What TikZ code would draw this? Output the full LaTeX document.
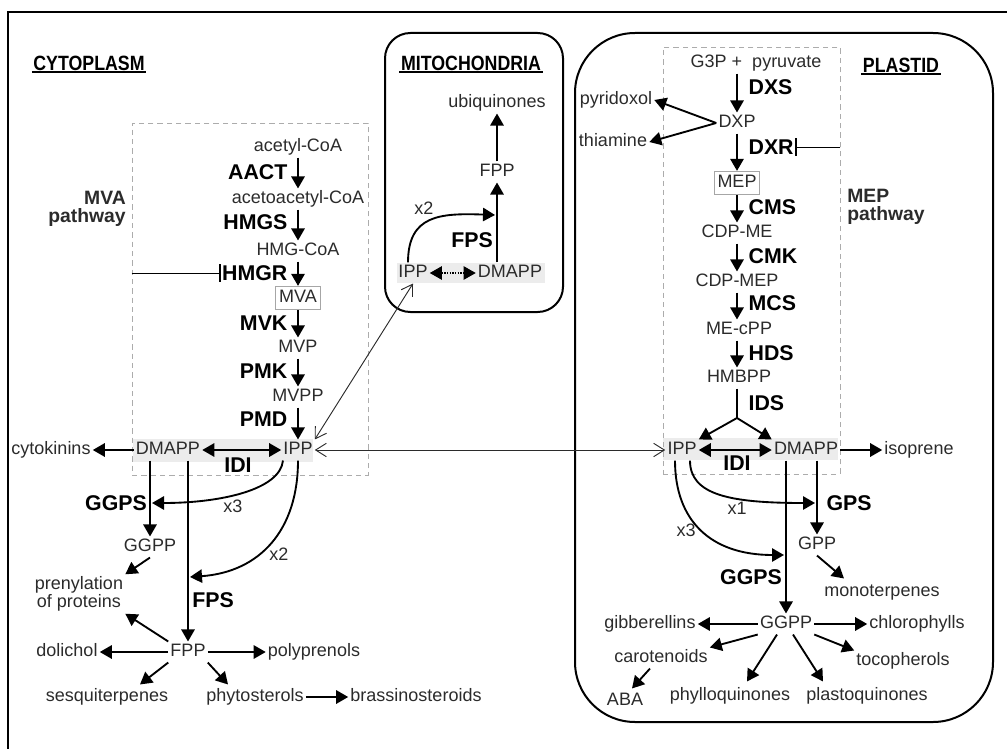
\documentclass[tikz,border=0pt]{standalone}
\usepackage{fontspec}
\setmainfont{Liberation Sans}
\newfontfamily\narrowsf[FakeStretch=0.86]{Liberation Sans}
\usetikzlibrary{arrows.meta}
\definecolor{txt}{HTML}{2B2B2B}

\begin{document}
\begin{tikzpicture}[x=0.75pt, y=-0.75pt, >={Triangle[length=9pt,width=10pt]},
    lbl/.style={text=txt, font=\fontsize{13.5}{15}\selectfont, inner sep=1.5pt, text height=9.8pt, text depth=2.6pt},
    two/.style={text=txt, font=\fontsize{13.5}{12}\selectfont, inner sep=1.5pt, align=center},
    enz/.style={font=\bfseries\fontsize{16}{17}\selectfont, inner sep=1pt},
    ttl/.style={font=\narrowsf\bfseries\fontsize{15.5}{17}\selectfont, inner sep=1pt},
    pwy/.style={font=\bfseries\fontsize{14.5}{13.5}\selectfont, text=txt, inner sep=0pt},
    arr/.style={->, line width=1.4pt},
    dbl/.style={<->, line width=1.4pt},
    trn/.style={{Straight Barb[length=8pt,width=10pt]}-{Straight Barb[length=8pt,width=10pt]}, line width=0.7pt, draw=txt},
    inh/.style={-{Bar[width=13pt,line width=1pt]}, line width=0.7pt},
    pwbox/.style={draw=gray!65, dash pattern=on 4pt off 3pt, line width=0.7pt, inner sep=0pt},
    band/.style={fill=gray!15},
    cmp/.style={line width=1.5pt},
    box/.style={draw=gray!70, line width=0.8pt, inner sep=2.5pt}]

    \useasboundingbox (0,0) rectangle (1007,749);
    \draw[line width=1.5pt] (8,749) -- (8,12) -- (1007,12);

    % compartments
    \draw[cmp, rounded corners=19pt] (385,33) rectangle (563,312);
    \draw[cmp, rounded corners=45pt] (575,33) rectangle (993,722);

    % IPP/DMAPP bands
    \fill[band] (133,439) rectangle (313,462);
    \fill[band] (397,263) rectangle (545,283);
    \fill[band] (663,438) rectangle (838,460);

    \node[pwbox, minimum width=177pt, minimum height=264pt] (mvabox) at (250,299) {};
    \node[pwbox, minimum width=132.75pt, minimum height=320.25pt] (mepbox) at (751.5,260.5) {};

    % titles
    \node[ttl] (cyto) at (89,63) {CYTOPLASM};
    \draw[line width=1.2pt] (cyto.south west) -- (cyto.south east);
    \node[ttl] (mito) at (471,63) {MITOCHONDRIA};
    \draw[line width=1.2pt] (mito.south west) -- (mito.south east);
    \node[ttl] (plas) at (901,65) {PLASTID};
    \draw[line width=1.2pt] (plas.south west) -- (plas.south east);

    \node[pwy, align=right, anchor=east] (mvap) at (126,209) {MVA\\pathway};
    \node[pwy, align=left, anchor=west] (mepp) at (847,207) {MEP\\pathway};

    % MVA pathway
    \node[lbl] (acoa) at (298,147) {acetyl-CoA};
    \node[lbl] (aacoa) at (298,199) {acetoacetyl-CoA};
    \node[lbl] (hmgcoa) at (298,251) {HMG-CoA};
    \node[lbl, box] (mva) at (298,298) {MVA};
    \node[lbl] (mvp) at (298,348) {MVP};
    \node[lbl] (mvpp) at (298,397) {MVPP};
    \node[lbl] (ippC) at (298,450) {IPP};
    \node[lbl] (dmappC) at (168,450) {DMAPP};
    \node[lbl] (cytok) at (51,450) {cytokinins};

    \draw[arr] (acoa) -- (aacoa);
    \draw[arr] (aacoa) -- (hmgcoa);
    \draw[arr] (hmgcoa) -- (mva);
    \draw[arr] (mva) -- (mvp);
    \draw[arr] (mvp) -- (mvpp);
    \draw[arr] (mvpp) -- (ippC);

    \node[enz, anchor=east] (aact) at (289,172) {AACT};
    \node[enz, anchor=east] (hmgs) at (289,222) {HMGS};
    \node[enz, anchor=east] (hmgr) at (289,273) {HMGR};
    \node[enz, anchor=east] (mvk) at (289,323) {MVK};
    \node[enz, anchor=east] (pmk) at (289,371) {PMK};
    \node[enz, anchor=east] (pmd) at (289,419) {PMD};
    \draw[inh] (mvabox.west |- hmgr) -- (hmgr.west);

    \draw[dbl] (dmappC) -- (ippC);
    \node[enz] (idiC) at (238,465) {IDI};
    \draw[arr] (dmappC) -- (cytok);

    % cytoplasmic prenyl chains
    \node[lbl] (ggppC) at (150,547) {GGPP};
    \node[lbl] (fppC) at (188,652) {FPP};
    \draw[arr] (dmappC.south -| ggppC) -- (ggppC);
    \draw[arr] (dmappC.south -| fppC) -- (fppC);
    \node[enz] (ggpsC) at (116,503) {GGPS};
    \node[enz] (fpsC) at (213,600) {FPS};
    \coordinate (g3C) at (152,503);
    \coordinate (f2C) at (190,577);
    \draw[arr] ([shift={(-15,0)}]ippC.south) .. controls (280,490) and (220,503) .. (g3C);
    \draw[arr] (ippC.south) .. controls (298,530) and (260,572) .. (f2C);
    \node[lbl] (x3C) at (233,508) {x3};
    \node[lbl] (x2C) at (279,556) {x2};

    \node[two] (prenyl) at (79,594) {prenylation\\of proteins};
    \node[lbl] (dolichol) at (67,652) {dolichol};
    \node[lbl] (polypren) at (314,652) {polyprenols};
    \node[lbl] (sesqui) at (107,697) {sesquiterpenes};
    \node[lbl] (phyto) at (255,697) {phytosterols};
    \node[lbl] (brassino) at (416,697) {brassinosteroids};
    \draw[arr] (ggppC.south) -- (prenyl.north east);
    \draw[arr] (fppC.north west) -- (prenyl.south east);
    \draw[arr] (fppC) -- (dolichol);
    \draw[arr] (fppC) -- (polypren);
    \draw[arr] (fppC.south west) -- ([shift={(33,-2)}]sesqui.north);
    \draw[arr] (fppC.south east) -- ([shift={(-27,-2)}]phyto.north);
    \draw[arr] (phyto) -- (brassino);

    % mitochondria
    \node[lbl] (ubiq) at (497,103) {ubiquinones};
    \node[lbl] (fppM) at (497,172) {FPP};
    \node[lbl] (ippM) at (413,273) {IPP};
    \node[lbl] (dmappM) at (510,273) {DMAPP};
    \draw[arr] (fppM) -- (ubiq);
    \draw[arr] (dmappM.north -| fppM) -- (fppM);
    \draw[<->, line width=0.8pt, dash pattern=on 1pt off 1pt] (ippM) -- (dmappM);
    \coordinate (f2M) at (495,215);
    \draw[arr] ([shift={(-5,0)}]ippM.north) .. controls (408,215) and (440,213) .. (f2M);
    \node[lbl] (x2M) at (424,210) {x2};
    \node[enz] (fpsM) at (472,240) {FPS};

    % MEP pathway
    \node[lbl] (g3p) at (756,63) {G3P +\ \ pyruvate};
    \node[lbl] (dxp) at (737,123) {DXP};
    \node[lbl] (pyrid) at (616,100) {pyridoxol};
    \node[lbl] (thiam) at (613,142) {thiamine};
    \node[lbl, box] (mep) at (737,183) {MEP};
    \node[lbl] (cdpme) at (737,233) {CDP-ME};
    \node[lbl] (cdpmep) at (737,282) {CDP-MEP};
    \node[lbl] (mecpp) at (739,330) {ME-cPP};
    \node[lbl] (hmbpp) at (739,378) {HMBPP};
    \coordinate (idsP) at (737,418);
    \node[lbl] (ippP) at (682,450) {IPP};
    \node[lbl] (dmappP) at (806,450) {DMAPP};
    \node[lbl] (isopr) at (919,450) {isoprene};

    \draw[arr] (g3p.south -| dxp) -- (dxp);
    \draw[arr] (dxp.west) -- (pyrid.east);
    \draw[arr] (dxp.west) -- (thiam.east);
    \draw[arr] (dxp) -- (mep);
    \draw[arr] (mep) -- (cdpme);
    \draw[arr] (cdpme) -- (cdpmep);
    \draw[arr] (cdpmep.south -| idsP) -- (mecpp.north -| idsP);
    \draw[arr] (mecpp.south -| idsP) -- (hmbpp.north -| idsP);
    \draw[line width=0.8pt] (hmbpp.south -| idsP) -- (idsP);
    \draw[arr] (idsP) -- (ippP.north east);
    \draw[arr] (idsP) -- (dmappP.north west);

    \node[enz, anchor=west] (dxs) at (747,87) {DXS};
    \node[enz, anchor=west] (dxr) at (747,147) {DXR};
    \node[enz, anchor=west] (cms) at (747,207) {CMS};
    \node[enz, anchor=west] (cmk) at (747,256) {CMK};
    \node[enz, anchor=west] (mcs) at (747,303) {MCS};
    \node[enz, anchor=west] (hds) at (747,353) {HDS};
    \node[enz, anchor=west] (ids) at (747,403) {IDS};
    \draw[inh] (mepbox.east |- dxr) -- (dxr.east);

    \draw[dbl] (ippP) -- (dmappP);
    \node[enz] (idiP) at (737,463) {IDI};
    \draw[arr] (dmappP) -- (isopr);

    % IPP exchange
    \draw[trn] (ippC) -- (ippP);
    \draw[trn] (ippM.south) -- (ippC.north east);

    % plastid prenyl chains
    \node[lbl] (gpp) at (817,545) {GPP};
    \node[lbl] (ggppP) at (786,624) {GGPP};
    \draw[arr] (dmappP.south -| gpp) -- (gpp);
    \draw[arr] (dmappP.south -| ggppP) -- (ggppP);
    \coordinate (g1P) at (815,503);
    \coordinate (g3P) at (784,555);
    \draw[arr] ([shift={(8,0)}]ippP.south) .. controls (690,495) and (730,503) .. (g1P);
    \draw[arr] ([shift={(-7,0)}]ippP.south) .. controls (675,520) and (710,555) .. (g3P);
    \node[lbl] (x1P) at (737,510) {x1};
    \node[lbl] (x3P) at (686,532) {x3};
    \node[enz, anchor=west] (gpsP) at (825,503) {GPS};
    \node[enz] (ggpsP) at (751,577) {GGPS};
    \node[lbl] (monot) at (882,592) {monoterpenes};
    \draw[arr] (gpp.south) -- ([shift={(-38,-3)}]monot.north);

    \node[lbl] (gibb) at (650,624) {gibberellins};
    \node[lbl] (chloro) at (917,624) {chlorophylls};
    \node[lbl] (carot) at (661,658) {carotenoids};
    \node[lbl] (tocoph) at (903,661) {tocopherols};
    \node[lbl] (phyllo) at (730,696) {phylloquinones};
    \node[lbl] (plasto) at (867,696) {plastoquinones};
    \node[lbl] (aba) at (625,701) {ABA};
    \draw[arr] (ggppP) -- (gibb);
    \draw[arr] (ggppP) -- (chloro);
    \draw[arr] (ggppP.south west) -- (carot.north east);
    \draw[arr] (ggppP.south east) -- (tocoph.north west);
    \draw[arr] ([shift={(-9,0)}]ggppP.south) -- ([shift={(17,-4)}]phyllo.north);
    \draw[arr] ([shift={(7,0)}]ggppP.south) -- ([shift={(-44,-4)}]plasto.north);
    \draw[arr] ([shift={(-11,0)}]carot.south) -- ([shift={(7,-2)}]aba.north);
\end{tikzpicture}
\end{document}
